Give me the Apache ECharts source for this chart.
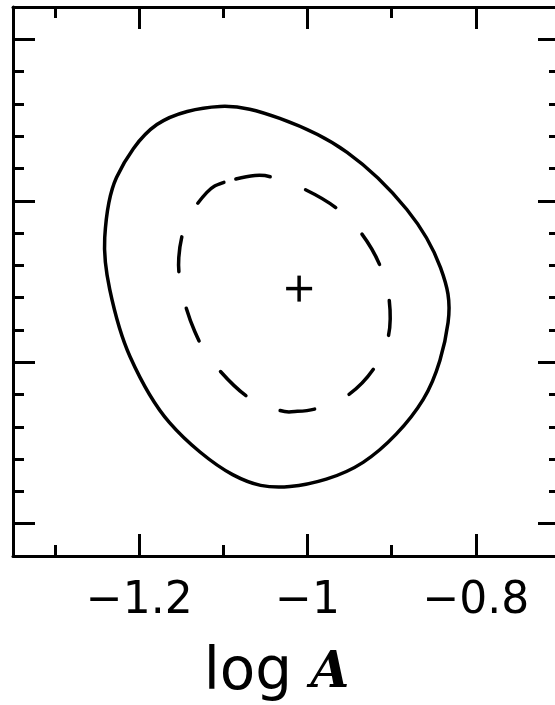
<!DOCTYPE html>
<html lang="en">
<head>
    <meta charset="utf-8">
    <script src="https://cdn.jsdelivr.net/npm/echarts@6/dist/echarts.min.js"></script>
    <style>
        html, body { margin:0; padding:0; overflow:hidden; background:#fff; }
        #main { width:565px; height:705px; }
    </style>
</head>
<body>
<div id="main"></div>
<script type="text/javascript">
    // tick positions
    var xMajor = [-1.2, -1, -0.8];
    var xMinor = [-1.3, -1.1, -0.9];
    var yMajor = [0.1, 0.6, 1.1, 1.6];
    var yMinor = [0.2, 0.3, 0.4, 0.5, 0.7, 0.8, 0.9, 1.0, 1.2, 1.3, 1.4, 1.5];

    // outer (solid) contour (closed loop)
    var outerContour = [
        [-1.179, 1.336], [-1.104, 1.392], [-1.033, 1.355], [-0.953, 1.250], [-0.882, 1.073],
        [-0.842, 0.893], [-0.833, 0.723], [-0.8625, 0.485], [-0.934, 0.290], [-1.021, 0.215],
        [-1.089, 0.252], [-1.164, 0.413], [-1.211, 0.618], [-1.235, 0.825], [-1.241, 0.986],
        [-1.227, 1.172]
    ];

    // inner (dashed) contour (closed loop)
    var innerContour = [
        [-1.0994, 1.157], [-1.0625, 1.178], [-1.041, 1.172], [-1.003, 1.135],
        [-0.965, 1.076], [-0.936, 0.999], [-0.914, 0.900], [-0.903, 0.794],
        [-0.904, 0.680], [-0.921, 0.581], [-0.951, 0.500], [-0.989, 0.457], [-1.015, 0.4475],
        [-1.033, 0.451], [-1.072, 0.494], [-1.1125, 0.599], [-1.134, 0.695], [-1.149, 0.816],
        [-1.153, 0.924], [-1.1435, 1.036], [-1.1196, 1.126]
    ];

    var bestFit = [[-1.010, 0.828]];

    var myChart = echarts.init(document.getElementById('main'));

    var X_MIN = -1.35, X_MAX = -0.7, Y_MIN = 0, Y_MAX = 1.7;
    var black = '#000';

    function tickAxis(pos, values, len, showLine) {
        return {
            type: 'value',
            position: pos,
            min: pos === 'left' || pos === 'right' ? Y_MIN : X_MIN,
            max: pos === 'left' || pos === 'right' ? Y_MAX : X_MAX,
            axisLine: { show: showLine, onZero: false, lineStyle: { color: black, width: 3 } },
            axisTick: { show: true, inside: true, length: len, customValues: values,
                lineStyle: { color: black, width: 3 } },
            axisLabel: { show: false },
            splitLine: { show: false }
        };
    }

    var xMain = tickAxis('bottom', xMajor, 22, true);
    xMain.axisLabel = {
        show: true,
        customValues: xMajor,
        margin: 24,
        color: black,
        fontFamily: 'DejaVu Sans',
        fontSize: 44,
        formatter: function (v) { return String(v).replace('-', '\u2212'); }
    };
    xMain.name = '{n|log }{a|A}';
    xMain.nameLocation = 'middle';
    xMain.nameGap = 89;
    xMain.nameTextStyle = {
        padding: [0, 20, 0, 0],
        rich: {
            n: { fontFamily: 'DejaVu Sans', fontSize: 58, color: black },
            a: { fontFamily: 'DejaVu Serif', fontStyle: 'italic', fontWeight: 'bold', fontSize: 50, color: black }
        }
    };

    // closed Catmull-Rom curve through pixel points
    function loopPath(pts) {
        var n = pts.length, d = 'M' + pts[0][0] + ',' + pts[0][1];
        for (var i = 0; i < n; i++) {
            var p0 = pts[(i - 1 + n) % n], p1 = pts[i], p2 = pts[(i + 1) % n], p3 = pts[(i + 2) % n];
            var c1x = p1[0] + (p2[0] - p0[0]) / 6, c1y = p1[1] + (p2[1] - p0[1]) / 6;
            var c2x = p2[0] - (p3[0] - p1[0]) / 6, c2y = p2[1] - (p3[1] - p1[1]) / 6;
            d += 'C' + c1x + ',' + c1y + ',' + c2x + ',' + c2y + ',' + p2[0] + ',' + p2[1];
        }
        return d + 'Z';
    }

    function loopSeries(points, lineStyle) {
        return {
            type: 'custom',
            data: points,
            silent: true,
            renderItem: function (params, api) {
                if (params.dataIndex !== 0) return null;
                var pts = points.map(function (p) { return api.coord(p); });
                return {
                    type: 'path',
                    shape: { pathData: loopPath(pts) },
                    style: lineStyle
                };
            }
        };
    }

    myChart.setOption({
        animation: false,
        backgroundColor: '#fff',
        grid: { left: 13, top: 7, width: 547, height: 549, outerBoundsMode: 'none', containLabel: false },
        xAxis: [
            xMain,
            tickAxis('bottom', xMinor, 11, false),
            tickAxis('top', xMajor, 22, true),
            tickAxis('top', xMinor, 11, false)
        ],
        yAxis: [
            tickAxis('left', yMajor, 22, true),
            tickAxis('left', yMinor, 11, false),
            tickAxis('right', yMajor, 22, true),
            tickAxis('right', yMinor, 11, false)
        ],
        series: [
            loopSeries(outerContour, { fill: 'none', stroke: black, lineWidth: 3.5 }),
            loopSeries(innerContour, { fill: 'none', stroke: black, lineWidth: 3.5,
                lineDash: [35, 37.5], lineDashOffset: 60, lineCap: 'round' }),
            {
                type: 'custom',
                data: bestFit,
                silent: true,
                renderItem: function (params, api) {
                    var c = api.coord([api.value(0), api.value(1)]);
                    var st = { stroke: black, lineWidth: 3.5 };
                    return {
                        type: 'group',
                        children: [
                            { type: 'line', shape: { x1: c[0] - 13, y1: c[1], x2: c[0] + 13, y2: c[1] }, style: st },
                            { type: 'line', shape: { x1: c[0], y1: c[1] - 13, x2: c[0], y2: c[1] + 13 }, style: st }
                        ]
                    };
                }
            }
        ]
    });
</script>
</body>
</html>
